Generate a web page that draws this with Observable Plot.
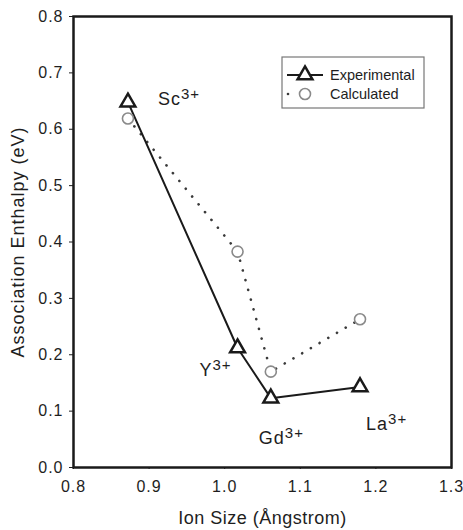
<!DOCTYPE html>
<html><head><meta charset="utf-8">
<script src="https://cdn.jsdelivr.net/npm/d3@7"></script>
<script src="https://cdn.jsdelivr.net/npm/@observablehq/plot@0.6"></script>
<style>
body{margin:0;background:#fff;}
#wrap{position:relative;width:463px;height:530px;font-family:"Liberation Sans",Arial,sans-serif;}
#legend{position:absolute;left:0;top:0;pointer-events:none;}
</style></head><body><div id="wrap"></div>
<script>
// ---- data ----
const ions = ["Sc", "Y", "Gd", "La"];
const ionSize = [0.872, 1.017, 1.061, 1.179];
const experimental = [0.648, 0.212, 0.123, 0.143];
const calculated = [0.619, 0.383, 0.170, 0.263];
const charge = "3+";
const xTicks = [0.8, 0.9, 1.0, 1.1, 1.2, 1.3];
const yTicks = [0.0, 0.1, 0.2, 0.3, 0.4, 0.5, 0.6, 0.7, 0.8];
const seriesNames = ["Experimental", "Calculated"];
const xLabel = "Ion Size (Ångstrom)";
const yLabel = "Association Enthalpy (eV)";

// ---- build tables ----
const expRows = ions.map((ion, i) => ({ion, x: ionSize[i], y: experimental[i]}));
const calcRows = ions.map((ion, i) => ({ion, x: ionSize[i], y: calculated[i]}));

// label placement (style, relative to the experimental point)
const labelPlace = {
  Sc: {dx: 30, dy: -3, anchor: "start"},
  Y:  {dx: -6, dy: 22, anchor: "end"},
  Gd: {dx: -12, dy: 40, anchor: "start"},
  La: {dx: 6, dy: 37, anchor: "start"}
};

const ink = "#1a1a1a";
const txt = "#1e1e1e";
const fmt = d => d.toFixed(1);

const plot = Plot.plot({
  width: 463,
  height: 530,
  marginLeft: 73,
  marginRight: 12,
  marginTop: 16,
  marginBottom: 63,
  style: {fontFamily: '"Liberation Sans", Arial, sans-serif', fontSize: "16px", letterSpacing: "1px", color: txt, background: "white"},
  x: {domain: [0.8, 1.3], ticks: xTicks, tickFormat: fmt, tickSize: 2, tickPadding: 11,
      label: xLabel, labelAnchor: "center", labelOffset: 56, labelArrow: "none"},
  y: {domain: [0, 0.8], ticks: yTicks, tickFormat: fmt, tickSize: 4, tickPadding: 6,
      label: yLabel, labelAnchor: "center", labelOffset: 62, labelArrow: "none"},
  marks: [
    Plot.line(calcRows, {x: "x", y: "y", stroke: "#3a3a3a", strokeWidth: 2.6,
      strokeDasharray: "0.1 10", strokeLinecap: "round"}),
    Plot.line(expRows, {x: "x", y: "y", stroke: ink, strokeWidth: 2}),
    Plot.dot(calcRows, {x: "x", y: "y", r: 5.5, stroke: "#8a8a8a", strokeWidth: 1.6, fill: "white"}),
    Plot.dot(expRows, {x: "x", y: "y", symbol: "triangle", r: 5.5, stroke: ink, strokeWidth: 2.5, fill: "white"}),
    ...ions.map(ion => Plot.text(expRows.filter(d => d.ion === ion), {
      x: "x", y: "y", text: d => d.ion + charge,
      dx: labelPlace[ion].dx, dy: labelPlace[ion].dy, textAnchor: labelPlace[ion].anchor,
      fontSize: 18, fill: txt
    })),
    Plot.frame({stroke: ink, strokeWidth: 2.5})
  ]
});

// superscript charges
const labelSet = new Set(ions.map(i => i + charge));
d3.select(plot).selectAll("text").each(function() {
  const t = d3.select(this);
  const s = t.text();
  if (!labelSet.has(s)) return;
  const base = s.slice(0, s.length - charge.length);
  t.text(null);
  t.append("tspan").text(base);
  t.append("tspan").attr("dy", "-0.4em").attr("font-size", "15px").text(charge);
});
d3.select(plot).selectAll("text").filter(function() { return this.textContent === xLabel; })
  .attr("font-size", "18px").style("letter-spacing", "0.5px");
d3.select(plot).selectAll("text").filter(function() { return this.textContent === yLabel; })
  .attr("font-size", "18px").style("letter-spacing", "1px");

const wrap = document.getElementById("wrap");
wrap.appendChild(plot);

// legend overlay
const lg = d3.select(wrap).append("svg").attr("id", "legend").attr("width", 463).attr("height", 530);
lg.append("rect").attr("x", 282).attr("y", 57).attr("width", 142).attr("height", 51)
  .attr("fill", "white").attr("stroke", "#777").attr("stroke-width", 1.2);
const rowY = [75, 94];
lg.append("line").attr("x1", 287).attr("x2", 323).attr("y1", rowY[0]).attr("y2", rowY[0])
  .attr("stroke", ink).attr("stroke-width", 2);
lg.append("path").attr("d", d3.symbol(d3.symbolTriangle, Math.PI * 5.5 * 5.5)())
  .attr("transform", `translate(305,${rowY[0]})`).attr("fill", "white").attr("stroke", ink).attr("stroke-width", 2.5);
lg.append("circle").attr("cx", 288).attr("cy", rowY[1]).attr("r", 1.3).attr("fill", "#3a3a3a");
lg.append("circle").attr("cx", 305).attr("cy", rowY[1]).attr("r", 5.5)
  .attr("fill", "white").attr("stroke", "#8a8a8a").attr("stroke-width", 1.6);
seriesNames.forEach((name, i) => {
  lg.append("text").attr("x", 330).attr("y", rowY[i]).attr("dy", "0.35em")
    .attr("font-size", "14.5px").attr("fill", txt).attr("font-family", '"Liberation Sans", Arial, sans-serif')
    .text(name);
});
</script></body></html>
